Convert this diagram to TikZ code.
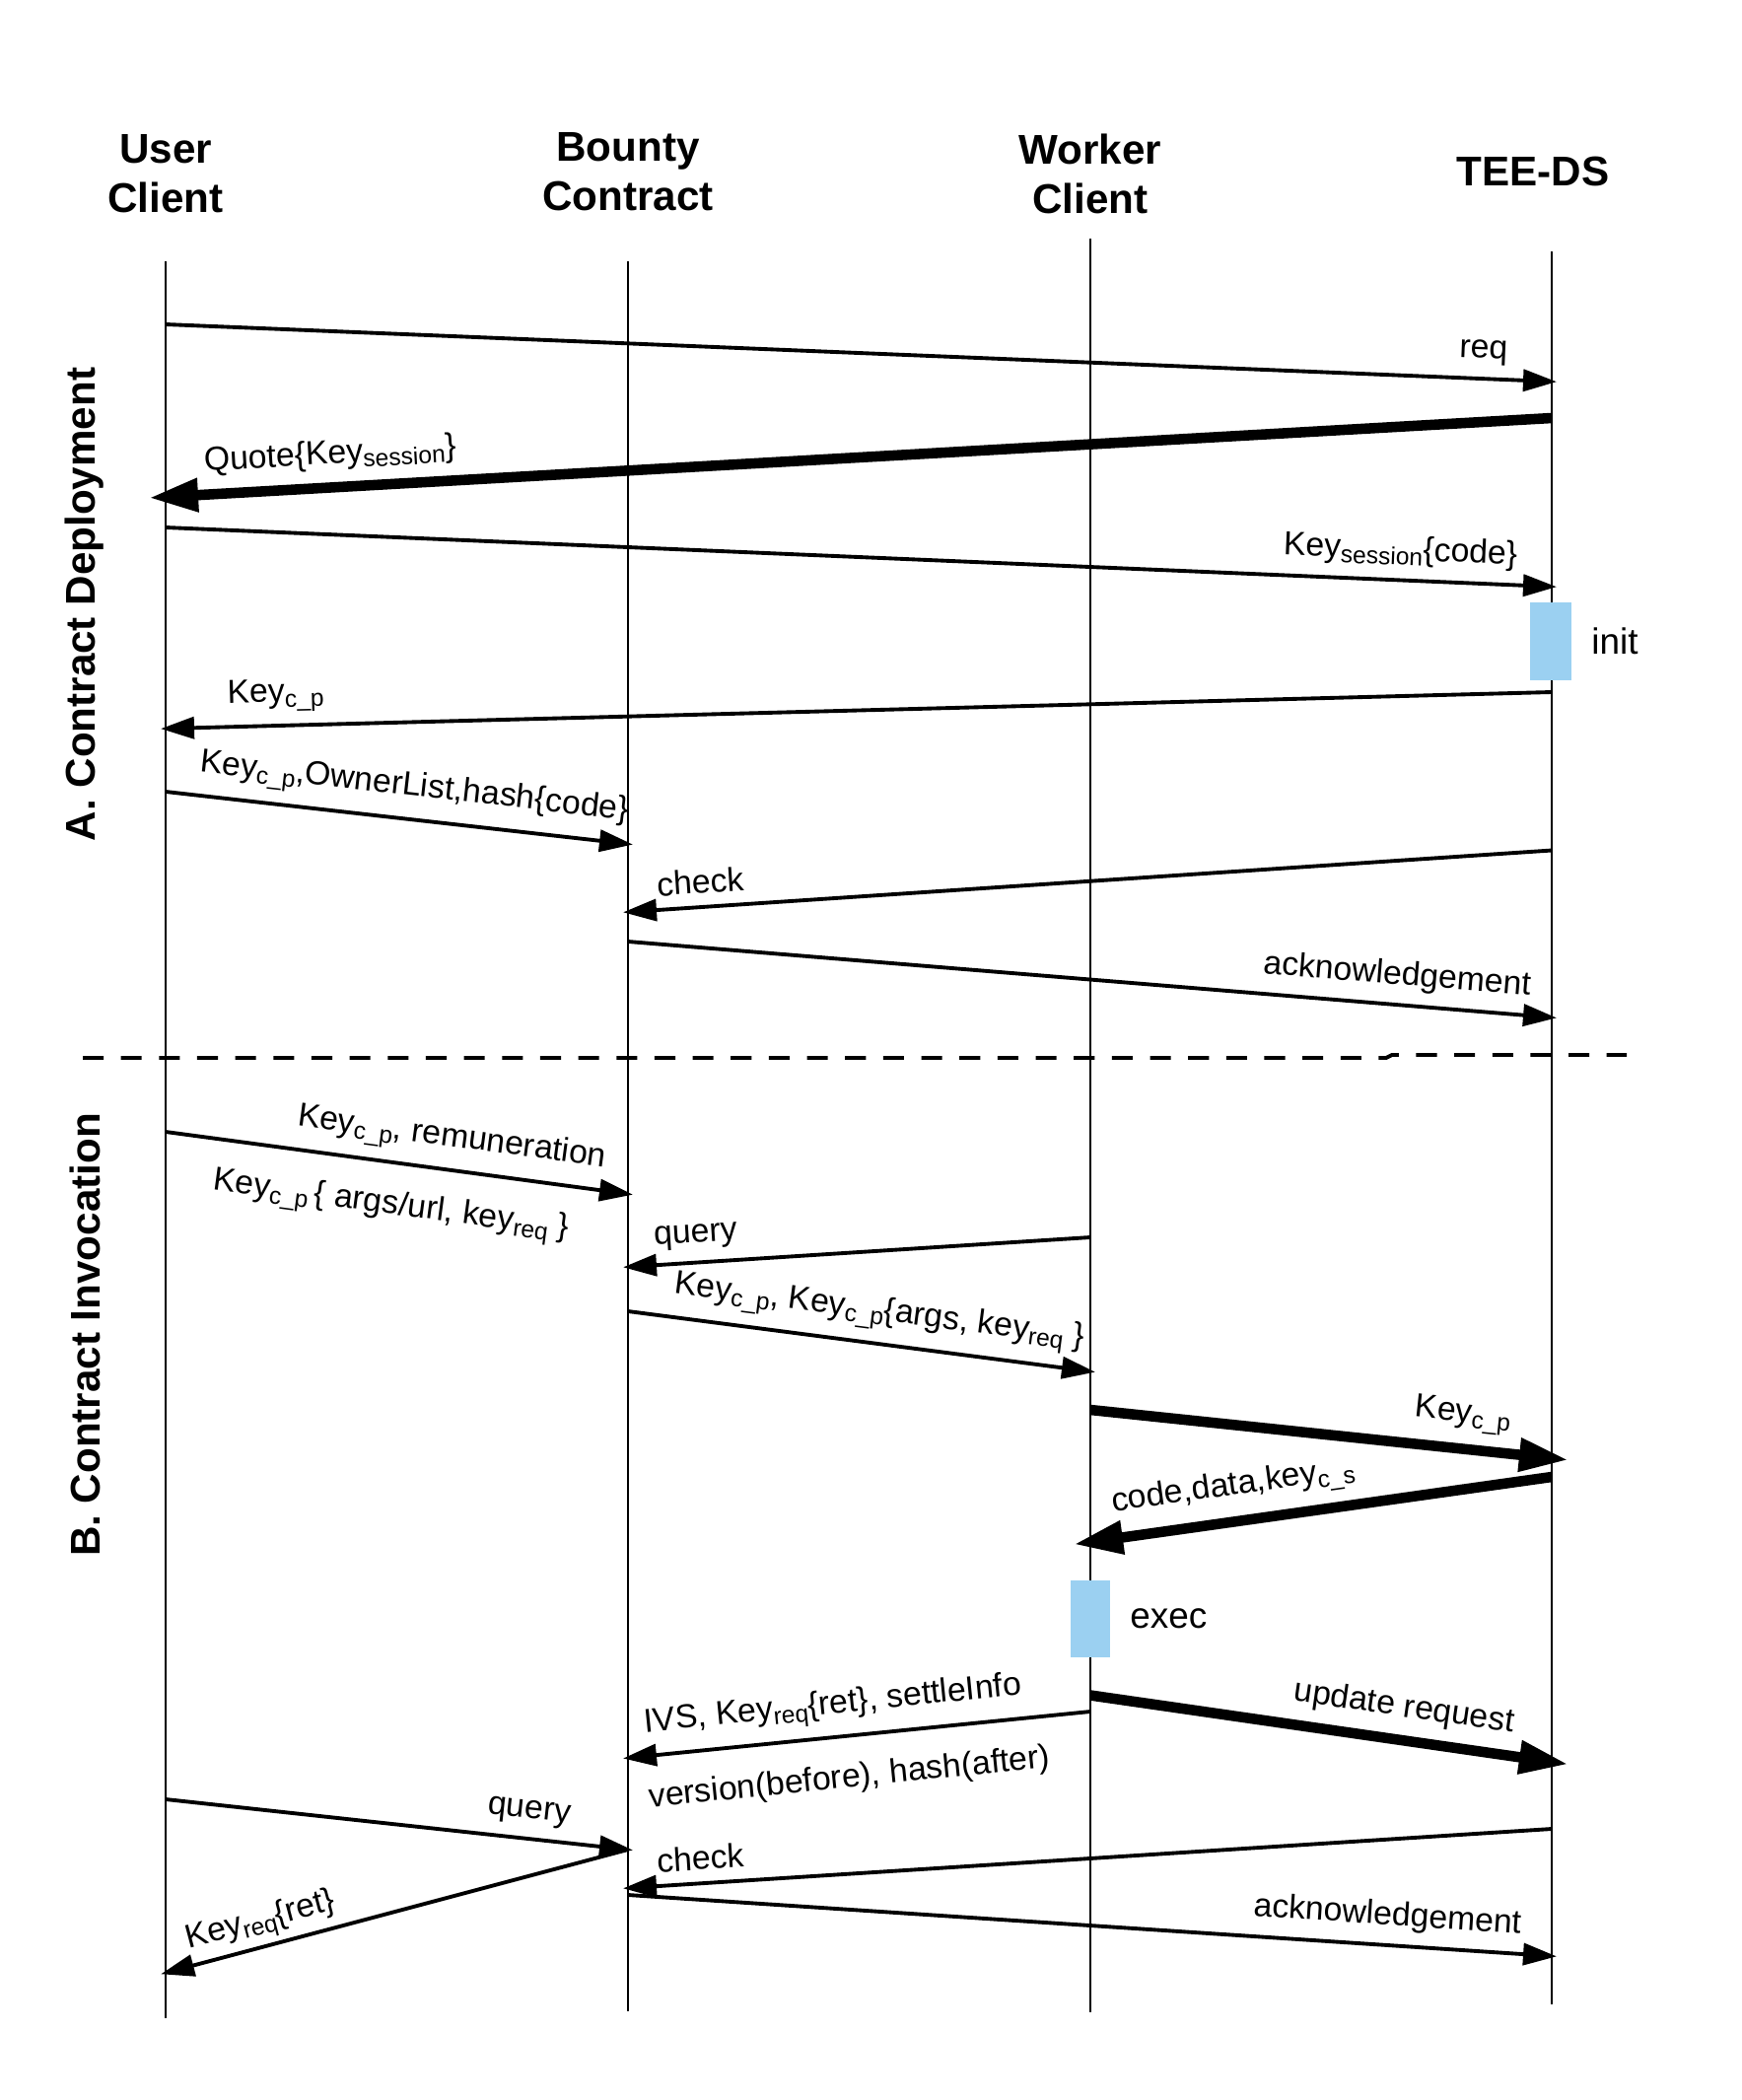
\documentclass[tikz,border=0pt]{standalone}
\usepackage{fontspec}
\setmainfont{Liberation Sans}
\usetikzlibrary{arrows.meta,positioning}
\definecolor{actblue}{HTML}{9BD0F1}
\newcommand{\ksub}[1]{\raisebox{-0.3ex}{\fontsize{7}{8}\selectfont #1}}

\begin{document}
\begin{tikzpicture}[
    life/.style={line width=0.8pt},
    msg/.style={line width=1.1pt, -{Triangle[length=3.4mm,width=2.2mm]}, shorten >=-0.05cm},
    bigmsg/.style={line width=3pt, -{Triangle[length=5mm,width=3.2mm]}, shorten >=-0.17cm},
    lbl/.style={font=\fontsize{9.6}{11}\selectfont, sloped},
    head/.style={font=\fontsize{12}{14.2}\selectfont\bfseries, align=center},
    act/.style={fill=actblue, draw=none, inner sep=0pt, outer sep=0pt},
    actlbl/.style={font=\fontsize{10.5}{12}\selectfont},
  ]
    \useasboundingbox (0,0) rectangle (17.67,-21.30);

    \node[head] (user) at (1.68,-1.76) {User\\Client};
    \node[head] (bounty) at (6.37,-1.74) {Bounty\\Contract};
    \node[head] (worker) at (11.06,-1.76) {Worker\\Client};
    \node[head] (tee) at (15.55,-1.74) {TEE-DS};

    \node[head, rotate=90] (partA) at (0.86,-6.13) {A. Contract Deployment};
    \node[head, rotate=90] (partB) at (0.86,-13.54) {B. Contract Invocation};

    \coordinate (utop) at (1.68,-2.65);  \coordinate (ubot) at (1.68,-20.47);
    \coordinate (btop) at (6.37,-2.65);  \coordinate (bbot) at (6.37,-20.40);
    \coordinate (wtop) at (11.06,-2.42); \coordinate (wbot) at (11.06,-20.41);
    \coordinate (ttop) at (15.74,-2.55); \coordinate (tbot) at (15.74,-20.33);

    \draw[life] (utop) -- (ubot);
    \draw[life] (btop) -- (bbot);
    \draw[life] (wtop) -- (wbot);
    \draw[life] (ttop) -- (tbot);

    % A. contract deployment
    \draw[msg] (utop |- 0,-3.29) -- node[lbl, above, pos=0.95] {req} (ttop |- 0,-3.87);
    \draw[bigmsg] (ttop |- 0,-4.24) -- node[lbl, above, pos=0.88] {Quote\{Key\ksub{session}\}} (utop |- 0,-5.04);
    \draw[msg] (utop |- 0,-5.35) -- node[lbl, above, pos=0.89] {Key\ksub{session}\{code\}} (ttop |- 0,-5.95);
    \node[act, minimum width=0.42cm, minimum height=0.79cm] (initbox) at (15.73,-6.505) {};
    \node[actlbl, right=0.08cm of initbox] (init) {init};
    \draw[msg] (ttop |- 0,-7.02) -- node[lbl, above, pos=0.92] {Key\ksub{c\_p}} (utop |- 0,-7.39);
    \draw[msg] (utop |- 0,-8.03) -- node[lbl, above, pos=0.53] {Key\ksub{c\_p},OwnerList,hash\{code\}} (btop |- 0,-8.56);
    \draw[msg] (ttop |- 0,-8.625) -- node[lbl, above, pos=0.92] {check} (btop |- 0,-9.25);
    \draw[msg] (btop |- 0,-9.55) -- node[lbl, above, pos=0.83] {acknowledgement} (ttop |- 0,-10.32);

    \draw[line width=1.1pt, dash pattern=on 6pt off 5pt] (0.84,-10.73) -- (14.06,-10.73) -- (14.12,-10.70) -- (16.50,-10.70);

    % B. contract invocation
    \draw[msg] (utop |- 0,-11.48) -- node[lbl, above, pos=0.61] {Key\ksub{c\_p}, remuneration}
        node[lbl, below=4pt, pos=0.5] {Key\ksub{c\_p}\,\{ args/url, key\ksub{req} \}} (btop |- 0,-12.11);
    \draw[msg] (wtop |- 0,-12.55) -- node[lbl, above, pos=0.85] {query} (btop |- 0,-12.85);
    \draw[msg] (btop |- 0,-13.30) -- node[lbl, above, pos=0.535] {Key\ksub{c\_p}, Key\ksub{c\_p}\{args, key\ksub{req} \}} (wtop |- 0,-13.91);
    \draw[bigmsg] (wtop |- 0,-14.30) -- node[lbl, above, pos=0.80] {Key\ksub{c\_p}} (ttop |- 0,-14.79);
    \draw[bigmsg] (ttop |- 0,-14.98) -- node[lbl, above, pos=0.68] {code,data,key\ksub{c\_s}} (wtop |- 0,-15.64);
    \node[act, minimum width=0.40cm, minimum height=0.78cm] (execbox) at (11.06,-16.42) {};
    \node[actlbl, right=0.08cm of execbox] (exec) {exec};
    \draw[bigmsg] (wtop |- 0,-17.195) -- node[lbl, above, pos=0.67] {update request} (ttop |- 0,-17.87);
    \draw[msg] (wtop |- 0,-17.36) -- node[lbl, above, pos=0.55] {IVS, Key\ksub{req}\{ret\}, settleInfo}
        node[lbl, below=4pt, pos=0.53] {version(before), hash(after)} (btop |- 0,-17.83);
    \draw[msg] (utop |- 0,-18.25) -- node[lbl, above, pos=0.78] {query} (btop |- 0,-18.76);
    \draw[msg] (btop |- 0,-18.76) -- node[lbl, above, inner sep=1.5pt, pos=0.78] {Key\ksub{req}\{ret\}} (utop |- 0,-20.01);
    \draw[msg] (ttop |- 0,-18.55) -- node[lbl, above, pos=0.92] {check} (btop |- 0,-19.15);
    \draw[msg] (btop |- 0,-19.22) -- node[lbl, above, pos=0.82] {acknowledgement} (ttop |- 0,-19.84);
\end{tikzpicture}
\end{document}
